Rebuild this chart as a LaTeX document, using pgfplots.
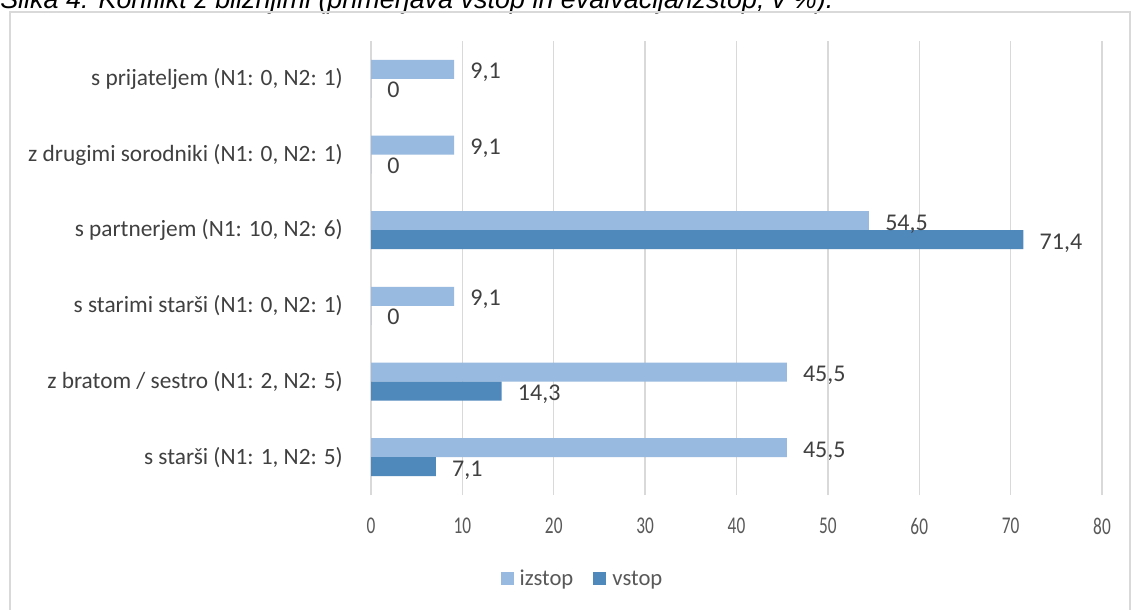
\documentclass[border=0pt]{standalone}
\usepackage{pgfplots}
\pgfplotsset{compat=1.18}
\usepackage{fontspec}
\setmainfont{Carlito}
\newfontfamily\arialfont{Liberation Sans}
\definecolor{izc}{HTML}{98B9E0}
\definecolor{vsc}{HTML}{4F88BB}
\definecolor{gridc}{HTML}{D9D9D9}
\definecolor{txtA}{HTML}{404040}
\definecolor{txtB}{HTML}{595959}
\begin{document}
\begin{tikzpicture}[x=0.75pt,y=-0.75pt]
\path[use as bounding box, clip] (0,0) rectangle (1131,610);
\fill[white] (0,0) rectangle (1131,610);
\node[anchor=base west, inner sep=0pt, font=\arialfont\itshape\fontsize{20.2}{24}\selectfont, text=black] at (0,9)
  {Slika 4: Konflikt z bližnjimi (primerjava vstop in evalvacija/izstop, v \%).};
\draw[gridc, line width=1.5pt] (9.5,12.5) rectangle (1129.5,640);
\begin{axis}[
  at={(278.25pt,-371.25pt)}, anchor=south west,
  scale only axis, width=548.25pt, height=340.5pt,
  xmin=0, xmax=80, ymin=-0.5, ymax=5.5,
  xtick={0,10,...,80}, ytick={0,1,2,3,4,5},
  yticklabels={{s starši (N1: 1, N2: 5)},{z bratom / sestro (N1: 2, N2: 5)},{s starimi starši (N1: 0, N2: 1)},{s partnerjem (N1: 10, N2: 6)},{z drugimi sorodniki (N1: 0, N2: 1)},{s prijateljem (N1: 0, N2: 1)}},
  axis line style={draw=none},
  major tick length=0pt,
  xmajorgrids, ymajorgrids=false,
  grid style={gridc, line width=1pt},
  /pgf/number format/use comma,
  /pgf/number format/assume math mode=true,
  xticklabel={\scalebox{0.72}[1]{\pgfmathprintnumber{\tick}}},
  xticklabel style={anchor=center, inner sep=0pt, yshift=-23.25pt, text=txtB, font=\fontsize{18}{21}\selectfont},
  yticklabel style={anchor=east, inner sep=0pt, xshift=-21pt, text=txtA, font=\fontsize{17.5}{21}\selectfont},
  xbar, bar width=14.25pt,
  nodes near coords,
  nodes near coords style={anchor=base west, inner sep=0pt, xshift=12pt, yshift=-7.2pt, text=txtA, font=\fontsize{18}{21}\selectfont},
  legend columns=2,
  legend style={at={(0.288,-0.185)}, anchor=center, draw=none, fill=none, font=\fontsize{17}{20}\selectfont, text=txtB,
    nodes={inner sep=0pt},
    /tikz/every odd column/.append style={column sep=4.5pt},
    /tikz/every even column/.append style={column sep=15pt}},
  legend image code/.code={\fill[#1] (0pt,-4.875pt) rectangle (9.75pt,4.875pt);},
]
\addplot[fill=izc, draw=none, bar shift=7.125pt] coordinates {(45.5,0) (45.5,1) (9.1,2) (54.5,3) (9.1,4) (9.1,5)};
\addplot[fill=vsc, draw=none, bar shift=-7.125pt] coordinates {(7.1,0) (14.3,1) (0,2) (71.4,3) (0,4) (0,5)};
\legend{izstop,vstop}
\end{axis}
\end{tikzpicture}
\end{document}
